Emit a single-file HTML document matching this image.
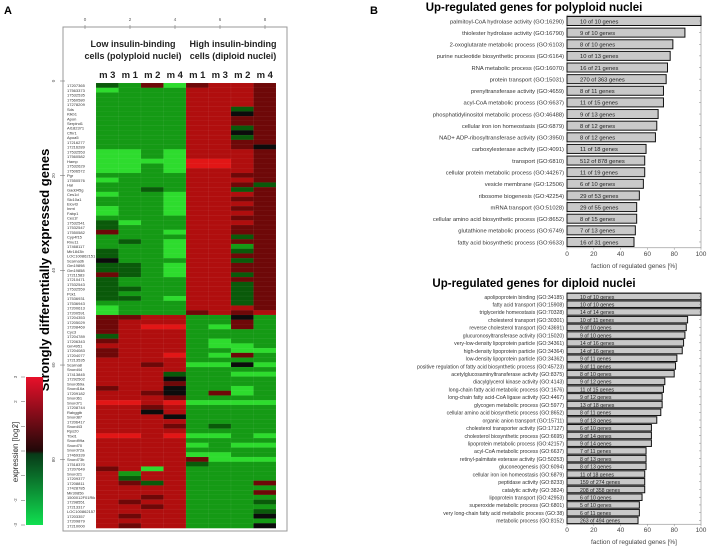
<!DOCTYPE html>
<html><head><meta charset="utf-8"><style>
body{margin:0;background:#fff;}
svg{display:block;font-family:"Liberation Sans",sans-serif;}
</style></head><body>
<svg id="s" width="708" height="546" viewBox="0 0 708 546">
<text x="4" y="14" font-size="11" font-weight="bold">A</text>
<text x="370" y="14" font-size="11" font-weight="bold">B</text>
<rect x="63" y="27" width="224" height="504" fill="none" stroke="#999" stroke-width="1"/>
<text x="133" y="47" font-size="9" font-weight="bold" fill="#222" text-anchor="middle">Low insulin-binding</text>
<text x="133" y="59" font-size="9" font-weight="bold" fill="#222" text-anchor="middle">cells  (polyploid nuclei)</text>
<text x="233" y="47" font-size="9" font-weight="bold" fill="#222" text-anchor="middle">High insulin-binding</text>
<text x="233" y="59" font-size="9" font-weight="bold" fill="#222" text-anchor="middle">cells  (diploid nuclei)</text>
<text x="49" y="270" font-size="13" font-weight="bold" text-anchor="middle" transform="rotate(-90 49 270)">Strongly differentially expressed genes</text>
<text x="18" y="452" font-size="8" text-anchor="middle" fill="#333" transform="rotate(-90 18 452)">expression [log2]</text>
<defs><linearGradient id="cb" x1="0" y1="0" x2="0" y2="1"><stop offset="0" stop-color="#e8102a"/><stop offset="0.5" stop-color="#200808"/><stop offset="0.52" stop-color="#083a18"/><stop offset="1" stop-color="#10e050"/></linearGradient></defs>
<rect x="26" y="377" width="17" height="148" fill="url(#cb)"/>
<g id="hm"></g><g id="bc"></g>
</svg>
<script>
const cols=["m 3","m 1","m 2","m 4","m 1","m 3","m 2","m 4"];
const topTicks=[0,2,4,6,8];
const rowTicks=[0,20,40,60,80];
const cbTicks=[3,2,1,0,-1,-2,-3];
const rowsA=["21404554","01115554","11115554","11115554","11115554","11115524","11115534","11115544","11115544","11115524","11115534","11115524","11115544","11115543","00105554","00105554","00006654","00106654","00105554","11115544","01115554","11115542","11215524","01105554","11105544","11105554","01105544","01105554","11115544","20115554","21115544","41105544","11115524","12105544","11105514","21105524","21105544","31115524","22105544","22105544","42105524","21115544","21115524","22115524","21115524","22105524","11115524","01115554","01114545"];
const rowsB=["44551131","45551141","45661041","45551111","25551111","45551011","55551001","45551100","45561041","55551111","55450030","55551111","55521100","55531111","55541111","45531101","55431401","55541111","66560000","55451111","55351111","55531111","55551111","55541211","55551111","66560010","55551111","55550100","55551111","55550011","55554000","55552111","45051111","51551111","52551111","54251114","55551111","55551114","55451111","54551112","55451111","55551112","54551113","55551111","54551113"];
const genes=["17207365","17563373","17532535","17560580","17278209","Sds","Klkb1","Apon","Serpind1","AI182371","Cfhr1","Apoa5","17216277","17216289","17532553","17560582","Hamp","17532629","17506572","Pgr","17550576","Hal","Gadd45g","Ces1d","Slc10a1","Elovl3","Inmt","Fabp1","Ces1f","17532541","17532547","17550582","Cyp4f15","Rnu11","17468117","Mir1843b","LOC100862151","Scarna3b","Gm19898","Gm19858","17211583","17210471","17532543","17532559","Pck1","17536931","17536943","17200613","17200591","17204353","17205029","17208469","Cyc3","17204789","17206343","Gm4951","17204083","17204077","17213535","Scarna8","Snord44","17413845","17292502","Snord69a","Snord16a","17209182","Snord61","Snord71","17208744","Rabggtb","Snord87","17206417","Snord43","Rps20","Tbxl1","Snord99a","Snord70","Snord72a","17469339","Snord73b","17518370","17207649","Snord21","17209377","17208811","17428785","Mir3085b","1500012F01Rik","17298551","17213317","LOC100862157","17203357","17209879","17210000"];
const pol=["palmitoyl-CoA hydrolase activity (GO:16290)","thiolester hydrolase activity (GO:16790)","2-oxoglutarate metabolic process (GO:6103)","purine nucleotide biosynthetic process (GO:6164)","RNA metabolic process (GO:16070)","protein transport (GO:15031)","prenyltransferase activity (GO:4659)","acyl-CoA metabolic process (GO:6637)","phosphatidylinositol metabolic process (GO:46488)","cellular iron ion homeostasis (GO:6879)","NAD+ ADP-ribosyltransferase activity (GO:3950)","carboxylesterase activity (GO:4091)","transport (GO:6810)","cellular protein metabolic process (GO:44267)","vesicle membrane (GO:12506)","ribosome biogenesis (GO:42254)","mRNA transport (GO:51028)","cellular amino acid biosynthetic process (GO:8652)","glutathione metabolic process (GO:6749)","fatty acid biosynthetic process (GO:6633)"];
const polVal=[100,88,79,77,75,74,72,72,68,67,66,59,58,58,57,54,52,52,51,50];
const polTxt=["10 of 10 genes","9 of 10 genes","8 of 10 genes","10 of 13 genes","16 of 21 genes","270 of 363 genes","8 of 11 genes","11 of 15 genes","9 of 13 genes","8 of 12 genes","8 of 12 genes","11 of 18 genes","512 of 878 genes","11 of 19 genes","6 of 10 genes","29 of 53 genes","29 of 55 genes","8 of 15 genes","7 of 13 genes","16 of 31 genes"];
const dip=["apolipoprotein binding (GO:34185)","fatty acid transport (GO:15908)","triglyceride homeostasis (GO:70328)","cholesterol transport (GO:30301)","reverse cholesterol transport (GO:43691)","glucuronosyltransferase activity (GO:15020)","very-low-density lipoprotein particle (GO:34361)","high-density lipoprotein particle (GO:34364)","low-density lipoprotein particle (GO:34362)","positive regulation of fatty acid biosynthetic process (GO:45723)","acetylglucosaminyltransferase activity (GO:8375)","diacylglycerol kinase activity (GO:4143)","long-chain fatty acid metabolic process (GO:1676)","long-chain fatty acid-CoA ligase activity (GO:4467)","glycogen metabolic process (GO:5977)","cellular amino acid biosynthetic process (GO:8652)","organic anion transport (GO:15711)","cholesterol transporter activity (GO:17127)","cholesterol biosynthetic process (GO:6695)","lipoprotein metabolic process (GO:42157)","acyl-CoA metabolic process (GO:6637)","retinyl-palmitate esterase activity (GO:50253)","gluconeogenesis (GO:6094)","cellular iron ion homeostasis (GO:6879)","peptidase activity (GO:8233)","catalytic activity (GO:3824)","lipoprotein transport (GO:42953)","superoxide metabolic process (GO:6801)","very long-chain fatty acid metabolic process (GO:38)","metabolic process (GO:8152)"];
const dipVal=[100,100,100,90,89,88,87,86,82,81,80,73,72,71,71,70,67,63,63,63,59,59,59,58,58,58,56,54,54,53];
const dipTxt=["10 of 10 genes","10 of 10 genes","14 of 14 genes","10 of 11 genes","9 of 10 genes","9 of 10 genes","14 of 16 genes","14 of 16 genes","9 of 11 genes","9 of 11 genes","8 of 10 genes","9 of 12 genes","11 of 15 genes","9 of 12 genes","13 of 18 genes","8 of 11 genes","9 of 13 genes","6 of 10 genes","9 of 14 genes","9 of 14 genes","7 of 11 genes","8 of 13 genes","8 of 13 genes","11 of 18 genes","159 of 274 genes","208 of 358 genes","6 of 10 genes","5 of 10 genes","6 of 11 genes","263 of 494 genes"];
const xTicks=[0,20,40,60,80,100];

const NS="http://www.w3.org/2000/svg";
function mk(p,t,a,txt){const e=document.createElementNS(NS,t);for(const k in a)e.setAttribute(k,a[k]);if(txt!==undefined)e.textContent=txt;p.appendChild(e);return e;}
const palette=["#2edc2e","#159a15","#0a5a0a","#0c0c0c","#6e0808","#b00e0e","#e21616"];
const hm=document.getElementById('hm');
const rows=rowsA.concat(rowsB);
const HX0=96,HW=22.5,HY0=83,RH=445/rows.length;
const hx=c=>HX0+c*HW, hy=r=>HY0+r*RH;
rows.forEach((row,r)=>{
  for(let c=0;c<8;c++){
    const e=mk(hm,'rect',{x:hx(c),y:hy(r),width:HW,height:RH+0.3,fill:palette[+row[c]],stroke:"rgba(255,255,255,0.12)","stroke-width":0.3});
    
    
  }
  const t=mk(hm,'text',{x:67,y:hy(r)+RH-0.6,"font-size":4,fill:"#333"},genes[r]||"");
  
  
});
cols.forEach((c,i)=>{const t=mk(hm,'text',{x:hx(i)+HW/2,y:78,"font-size":9.5,"font-weight":"bold","text-anchor":"middle",fill:"#222"},c);

});
topTicks.forEach(v=>{const x=HX0-11+v*22.5;mk(hm,'line',{x1:x,x2:x,y1:25,y2:29,stroke:"#777","stroke-width":0.6});
const t=mk(hm,'text',{x:x,y:21,"font-size":4.5,"text-anchor":"middle",fill:"#555"},String(v));

});
rowTicks.forEach(v=>{const y=hy(v)-2;mk(hm,'line',{x1:60,x2:65,y1:y,y2:y,stroke:"#777","stroke-width":0.6});
const t=mk(hm,'text',{x:55,y:y,"font-size":4.5,"text-anchor":"middle",fill:"#555",transform:`rotate(-90 55 ${y})`},String(v));

});
cbTicks.forEach((v,i)=>{const y=377+i*(148/6);mk(hm,'line',{x1:21,x2:25,y1:y,y2:y,stroke:"#777","stroke-width":0.6});
const t=mk(hm,'text',{x:17,y:y,"font-size":4.5,"text-anchor":"middle",fill:"#555",transform:`rotate(-90 17 ${y})`},String(v));

});

const bc=document.getElementById('bc');
const X0=567,X1=701;const xs=v=>X0+v*(X1-X0)/100;
function chart(title,titleY,labels,vals,txts,y0,step,bh,axisY,xlabY,lfs){
  const tt=mk(bc,'text',{x:534,y:titleY,"font-size":11.5,"font-weight":"bold","text-anchor":"middle"},title);
  
  
  const top=y0-step/2, bot=y0+step*(vals.length-0.5);
  mk(bc,'rect',{x:X0,y:top,width:X1-X0,height:bot-top,fill:"none",stroke:"#888","stroke-width":0.6});
  vals.forEach((v,i)=>{const cy=y0+i*step;
    const b=mk(bc,'rect',{x:X0,y:cy-bh/2,width:xs(v)-X0,height:bh,fill:"#c9c9c9",stroke:"#111","stroke-width":1});
    
    
    const l=mk(bc,'text',{x:X0-3,y:cy+2.3,"font-size":lfs,"text-anchor":"end",fill:"#333"},labels[i]);
    
    
    const bt=mk(bc,'text',{x:X0+13,y:cy+2.3,"font-size":lfs,fill:"#222"},txts[i]);
    
    
    mk(bc,'line',{x1:X1-2,x2:X1,y1:cy,y2:cy,stroke:"#888","stroke-width":0.5});
  });
  xTicks.forEach(v=>{const x=xs(v);mk(bc,'line',{x1:x,x2:x,y1:bot,y2:bot+2,stroke:"#888","stroke-width":0.5});
    const t=mk(bc,'text',{x:x,y:axisY,"font-size":6.5,"text-anchor":"middle",fill:"#444"},String(v));
    
    });
  const xl=mk(bc,'text',{x:634,y:xlabY,"font-size":6.5,"text-anchor":"middle",fill:"#444"},"faction of regulated genes  [%]");
  
  
}
chart("Up-regulated genes for polyploid nuclei",11,pol,polVal,polTxt,21,11.63,9,256,268,5.8);
chart("Up-regulated genes for diploid nuclei",287,dip,dipVal,dipTxt,296.5,7.72,6.5,532,544,5.2);
</script>
</body></html>
